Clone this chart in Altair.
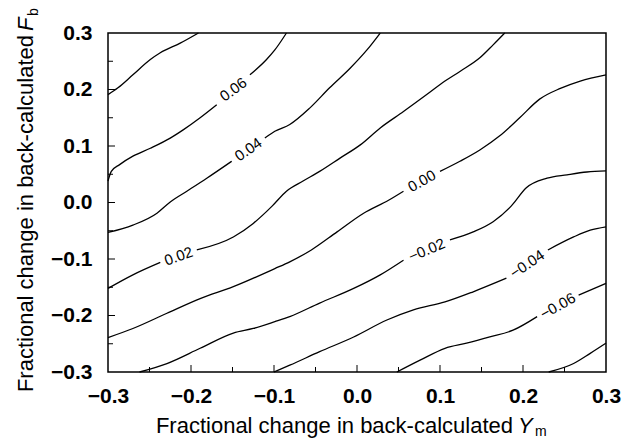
import altair as alt
import pandas as pd

# ---- contour lines (x = fractional change in Ym, y = fractional change in Fb); None marks a label gap
c008_x = [-0.300, -0.288, -0.270, -0.249, -0.237, -0.213, -0.191]
c008_y = [0.191, 0.203, 0.226, 0.253, 0.265, 0.282, 0.300]

c006_x = [-0.300, -0.296, -0.286, -0.270, -0.249, -0.225, -0.209, -0.189, -0.169, None, -0.129, -0.109, -0.099, -0.085]
c006_y = [0.038, 0.055, 0.067, 0.082, 0.096, 0.114, 0.129, 0.150, 0.173, None, 0.226, 0.253, 0.270, 0.300]

c004_x = [-0.300, -0.270, -0.241, -0.225, -0.205, -0.181, -0.151, None, -0.111, -0.099, -0.081, -0.057, -0.033, -0.008, 0.012, 0.028]
c004_y = [-0.053, -0.040, -0.019, 0.001, 0.020, 0.043, 0.073, None, 0.114, 0.126, 0.138, 0.167, 0.203, 0.238, 0.270, 0.300]

c002_x = [-0.300, -0.270, -0.237, None, -0.193, -0.149, -0.125, -0.102, -0.085, -0.065, -0.045, -0.020, 0.004, 0.028, 0.056, 0.084, 0.106, 0.124, 0.148, 0.164, 0.178]
c002_y = [-0.152, -0.128, -0.106, None, -0.084, -0.061, -0.037, -0.006, 0.020, 0.038, 0.055, 0.079, 0.102, 0.132, 0.161, 0.191, 0.215, 0.232, 0.256, 0.279, 0.300]

c000_x = [-0.300, -0.270, -0.229, -0.189, -0.149, -0.099, -0.081, -0.055, -0.024, 0.008, 0.038, 0.056, None, 0.100, 0.124, 0.148, 0.172, 0.196, 0.220, 0.245, 0.269, 0.300]
c000_y = [-0.239, -0.223, -0.196, -0.170, -0.149, -0.117, -0.105, -0.084, -0.052, -0.019, 0.004, 0.020, None, 0.055, 0.073, 0.093, 0.118, 0.150, 0.183, 0.202, 0.215, 0.226]

cm002_x = [-0.262, -0.229, -0.189, -0.149, -0.125, -0.099, -0.081, -0.045, -0.004, 0.028, 0.056, None, 0.112, 0.140, 0.164, 0.186, 0.204, 0.229, 0.253, 0.277, 0.300]
cm002_y = [-0.300, -0.285, -0.258, -0.231, -0.223, -0.211, -0.202, -0.178, -0.152, -0.128, -0.102, None, -0.066, -0.052, -0.034, -0.006, 0.026, 0.043, 0.049, 0.054, 0.056]

cm004_x = [-0.100, -0.081, -0.045, -0.004, 0.036, 0.068, 0.106, 0.140, 0.180, None, 0.230, 0.261, 0.281, 0.300]
cm004_y = [-0.300, -0.288, -0.264, -0.238, -0.208, -0.190, -0.176, -0.158, -0.134, None, -0.084, -0.061, -0.049, -0.043]

cm006_x = [0.048, 0.076, 0.106, 0.132, 0.160, 0.188, 0.217, None, 0.267, 0.300]
cm006_y = [-0.300, -0.279, -0.258, -0.249, -0.238, -0.226, -0.202, None, -0.164, -0.143]

cm008_x = [0.231, 0.261, 0.281, 0.300]
cm008_y = [-0.300, -0.285, -0.267, -0.249]

levels = ["0.08", "0.06", "0.04", "0.02", "0.00", "-0.02", "-0.04", "-0.06", "-0.08"]
curves_x = [c008_x, c006_x, c004_x, c002_x, c000_x, cm002_x, cm004_x, cm006_x, cm008_x]
curves_y = [c008_y, c006_y, c004_y, c002_y, c000_y, cm002_y, cm004_y, cm006_y, cm008_y]

# ---- contour labels
label_text = ["0.06", "0.04", "0.02", "0.00", "\u22120.02", "\u22120.04", "\u22120.06"]
label_x = [-0.149, -0.131, -0.215, 0.078, 0.084, 0.205, 0.242]
label_y = [0.200, 0.094, -0.095, 0.038, -0.084, -0.109, -0.183]
label_angle = [324, 325, 341, 331, 337, 326, 331]

# ---- axes
tick_values = [-0.3, -0.2, -0.1, 0.0, 0.1, 0.2, 0.3]
major_ticks = [-0.2, -0.1, 0.0, 0.1, 0.2]
minor_ticks = [-0.25, -0.15, -0.05, 0.05, 0.15, 0.25]

rows = []
for lev, xs, ys in zip(levels, curves_x, curves_y):
    seg = 0
    k = 0
    for xv, yv in zip(xs, ys):
        if xv is None:
            seg += 1
            continue
        rows.append({"level": lev, "seg": f"{lev}_{seg}", "order": k, "x": xv, "y": yv})
        k += 1
lines_df = pd.DataFrame(rows)
labels_df = pd.DataFrame({"text": label_text, "x": label_x, "y": label_y, "angle": label_angle})
major_df = pd.DataFrame({"v": major_ticks})
minor_df = pd.DataFrame({"v": minor_ticks})

W, H = 498, 339
FONT = "Liberation Sans"

xscale = alt.Scale(domain=[-0.3, 0.3], nice=False, zero=False)
yscale = alt.Scale(domain=[-0.3, 0.3], nice=False, zero=False)
xaxis = alt.Axis(values=tick_values, format=".1f", title=None, domain=False, ticks=False, tickSize=0,
                 grid=False, labelFontSize=21, labelFontWeight="bold", labelFont=FONT,
                 labelColor="black", labelPadding=13, labelFlush=False, labelOverlap=False)
yaxis = alt.Axis(values=tick_values, format=".1f", title=None, domain=False, ticks=False, tickSize=0,
                 grid=False, labelFontSize=21, labelFontWeight="bold", labelFont=FONT,
                 labelColor="black", labelPadding=16, labelFlush=False, labelOverlap=False)


def X(f):
    return alt.X(f, type="quantitative", scale=xscale, axis=xaxis)


def Y(f):
    return alt.Y(f, type="quantitative", scale=yscale, axis=yaxis)


lines = alt.Chart(lines_df).mark_line(color="black", strokeWidth=1.3, interpolate="monotone").encode(
    x=X("x"), y=Y("y"), detail="seg:N", order="order:Q")

labels = alt.Chart(labels_df).mark_text(font=FONT, fontSize=15, color="black",
                                         align="center", baseline="middle").encode(
    x=X("x"), y=Y("y"), text="text:N", angle=alt.Angle("angle:Q", scale=None))

xt_major = alt.Chart(major_df).mark_rule(color="black", strokeWidth=1).encode(
    x=X("v"), y=alt.value(H), y2=alt.value(H - 7))
xt_minor = alt.Chart(minor_df).mark_rule(color="black", strokeWidth=1).encode(
    x=X("v"), y=alt.value(H), y2=alt.value(H - 5))
yt_major = alt.Chart(major_df).mark_rule(color="black", strokeWidth=1).encode(
    y=Y("v"), x=alt.value(0), x2=alt.value(7))
yt_minor = alt.Chart(minor_df).mark_rule(color="black", strokeWidth=1).encode(
    y=Y("v"), x=alt.value(0), x2=alt.value(5))

one = pd.DataFrame({"a": [0]})
xt_main = alt.Chart(one).mark_text(text="Fractional change in back-calculated", font=FONT, fontSize=22,
                                   align="right", baseline="alphabetic", color="black").encode(
    x=alt.value(405), y=alt.value(400))
xt_Y = alt.Chart(one).mark_text(text="Y", font=FONT, fontSize=22, fontStyle="italic",
                                align="left", baseline="alphabetic", color="black").encode(
    x=alt.value(410), y=alt.value(400))
xt_m = alt.Chart(one).mark_text(text="m", font=FONT, fontSize=14,
                                align="left", baseline="alphabetic", color="black").encode(
    x=alt.value(427), y=alt.value(403))

yt_main = alt.Chart(one).mark_text(text="Fractional change in back-calculated", font=FONT, fontSize=22,
                                   align="right", baseline="alphabetic", angle=270, color="black").encode(
    x=alt.value(-75), y=alt.value(2))
yt_F = alt.Chart(one).mark_text(text="F", font=FONT, fontSize=22, fontStyle="italic",
                                align="left", baseline="alphabetic", angle=270, color="black").encode(
    x=alt.value(-75), y=alt.value(-2))
yt_b = alt.Chart(one).mark_text(text="b", font=FONT, fontSize=14,
                                align="left", baseline="alphabetic", angle=270, color="black").encode(
    x=alt.value(-70), y=alt.value(-17))

chart = alt.layer(lines, labels, xt_major, xt_minor, yt_major, yt_minor,
                  xt_main, xt_Y, xt_m, yt_main, yt_F, yt_b).properties(
    width=W, height=H,
    padding={"left": 108, "top": 33, "right": 29, "bottom": 71},
    autosize=alt.AutoSizeParams(type="none"),
    background="white",
).configure_view(stroke="black", strokeWidth=1.5)

chart.save("out.html", embed_options={"renderer": "svg", "actions": False})
